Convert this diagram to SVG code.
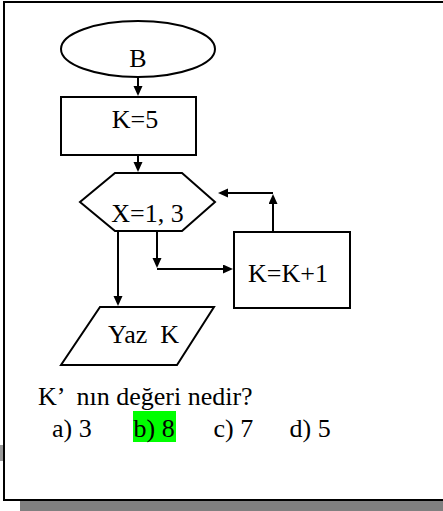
<svg xmlns="http://www.w3.org/2000/svg" width="443" height="511" viewBox="0 0 443 511">
<style>
.s{fill:#fff;stroke:#000;stroke-width:2}
.t{font-family:'Liberation Serif','Times New Roman',serif;font-size:26px;fill:#000;white-space:pre}
.c{text-anchor:middle}
.l{fill:none;stroke:#000;stroke-width:2}
</style>
<defs>
<marker id="a" markerUnits="userSpaceOnUse" markerWidth="12" markerHeight="12" viewBox="0 0 12 12" refX="6" refY="4.5" orient="auto">
<path d="M0,0 L10,4.5 L0,9 z" fill="#000"/>
</marker>
</defs>
<rect x="20" y="501" width="423" height="10" fill="#808080"/>
<rect x="0" y="445" width="3" height="16" fill="#9a9a9a"/>
<rect x="4" y="2" width="445" height="498" fill="#fff" stroke="#000" stroke-width="2"/>
<g id="start">
<ellipse class="s" cx="138" cy="49" rx="77" ry="28"/>
<text class="t c" x="138" y="67">B</text>
</g>
<g id="k5">
<rect class="s" x="61" y="97" width="135" height="58"/>
<text class="t c" x="135" y="128">K=5</text>
</g>
<g id="loop">
<polygon class="s" points="115,173 182,173 215,202 182,231 115,231 80,202"/>
<text class="t c" x="147.5" y="222">X=1, 3</text>
</g>
<g id="inc">
<rect class="s" x="234" y="232" width="116" height="76"/>
<text class="t c" x="288" y="282">K=K+1</text>
</g>
<g id="out">
<polygon class="s" points="100,307 214,307 177,365 61,365"/>
<text class="t c" x="143.5" y="343">Yaz  K</text>
</g>
<g id="connectors">
<line class="l" x1="138" y1="77" x2="138" y2="92" marker-end="url(#a)"/>
<line class="l" x1="138" y1="155" x2="138" y2="168" marker-end="url(#a)"/>
<line class="l" x1="157" y1="231" x2="157" y2="264" marker-end="url(#a)"/>
<polyline class="l" points="157,269 229,269" marker-end="url(#a)"/>
<line class="l" x1="118" y1="231" x2="118" y2="302" marker-end="url(#a)"/>
<line class="l" x1="273" y1="232" x2="273" y2="198" marker-end="url(#a)"/>
<line class="l" x1="273" y1="193" x2="222" y2="193" marker-end="url(#a)"/>
</g>
<g id="question">
<rect x="133" y="411" width="43" height="31" fill="#00ff00"/>
<text class="t" x="38" y="405">K’  nın değeri nedir?</text>
<text class="t" x="52" y="437">a) 3</text>
<text class="t" x="133.5" y="437">b) 8</text>
<text class="t" x="213.5" y="437">c) 7</text>
<text class="t" x="289.5" y="437">d) 5</text>
</g>
</svg>
